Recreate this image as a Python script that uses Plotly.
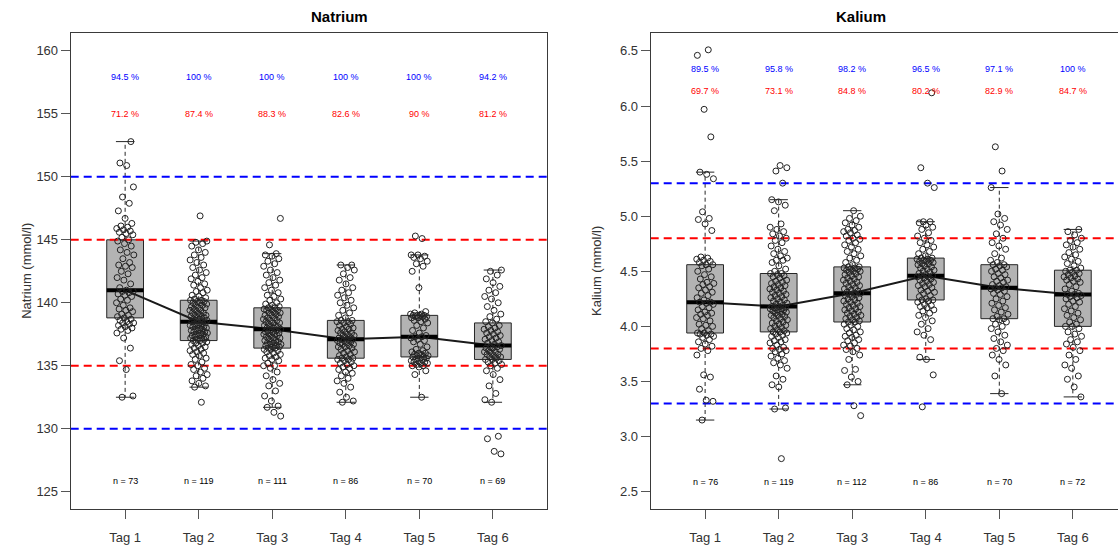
import numpy as np
import plotly.graph_objects as go

# ---------------------------------------------------------------- data
tage = ["Tag 1", "Tag 2", "Tag 3", "Tag 4", "Tag 5", "Tag 6"]

natrium_tag1 = [132.5, 132.6, 134.7, 135.4, 136.4, 137.2, 137.6, 137.8, 137.9, 138.0, 138.1, 138.2,
                138.3, 138.4, 138.4, 138.5, 138.6, 138.7, 138.8,
                138.9, 139.0, 139.1, 139.3, 139.4, 139.5, 139.6, 139.8, 140.0, 140.2, 140.3, 140.5,
                140.6, 140.7, 140.8, 140.9, 140.9, 141.0,
                141.2, 141.5, 141.8, 142.0, 142.3, 142.5, 142.8, 142.9, 143.0, 143.2, 143.5, 143.8,
                144.0, 144.2, 144.5, 144.7, 144.9, 145.0,
                145.2, 145.4, 145.5, 145.6, 145.7, 145.8, 145.9, 146.0, 146.1, 146.3, 146.7, 147.3,
                147.9, 148.4, 149.2, 150.9, 151.1, 152.8]
natrium_tag2 = [132.1, 133.3, 133.4, 133.6, 133.8, 134.0, 134.2, 134.3, 134.5, 134.7, 134.8, 135.0,
                135.1, 135.3, 135.5, 135.6, 135.8, 135.9, 136.0, 136.1, 136.2, 136.3, 136.4, 136.5,
                136.6, 136.7, 136.8, 136.8, 136.9, 137.0, 137.0,
                137.1, 137.1, 137.2, 137.2, 137.3, 137.3, 137.4, 137.4, 137.5, 137.5, 137.6, 137.6,
                137.7, 137.7, 137.8, 137.8, 137.9, 137.9, 138.0, 138.0, 138.1, 138.1, 138.2, 138.2,
                138.3, 138.3, 138.4, 138.4, 138.5,
                138.5, 138.6, 138.6, 138.7, 138.7, 138.8, 138.8, 138.9, 138.9, 139.0, 139.0, 139.1,
                139.2, 139.2, 139.3, 139.4, 139.4, 139.5, 139.6, 139.6, 139.7, 139.8, 139.8, 139.9,
                140.0, 140.0, 140.1, 140.1, 140.2, 140.2,
                140.3, 140.4, 140.5, 140.6, 140.8, 140.9, 141.0, 141.2, 141.4, 141.5, 141.7, 141.9,
                142.0, 142.2, 142.4, 142.6, 142.8, 143.0, 143.2, 143.4, 143.6, 143.8, 144.0, 144.2,
                144.5, 144.7, 144.8, 144.9, 146.9]
natrium_tag3 = [131.0, 131.3, 131.7, 131.8, 132.2, 132.6, 133.0, 133.4, 133.6, 133.9, 134.2, 134.5,
                134.8, 135.0, 135.0, 135.2, 135.4, 135.5, 135.6, 135.7, 135.8, 135.9, 136.0, 136.1,
                136.2, 136.3, 136.3, 136.4, 136.4,
                136.5, 136.5, 136.6, 136.6, 136.7, 136.7, 136.8, 136.8, 136.9, 136.9, 137.0, 137.0,
                137.1, 137.2, 137.2, 137.3, 137.4, 137.4, 137.5, 137.5, 137.6, 137.6, 137.7, 137.7,
                137.8, 137.8, 137.9,
                138.0, 138.0, 138.1, 138.1, 138.2, 138.2, 138.3, 138.4, 138.4, 138.5, 138.6, 138.6,
                138.7, 138.8, 138.8, 138.9, 139.0, 139.0, 139.1, 139.2, 139.2, 139.3, 139.4, 139.4,
                139.5, 139.5, 139.6, 139.6,
                139.7, 139.8, 139.9, 140.0, 140.2, 140.3, 140.5, 140.6, 140.8, 141.0, 141.2, 141.4,
                141.6, 141.8, 142.0, 142.2, 142.4, 142.6, 142.9, 143.1, 143.3, 143.5, 143.7, 143.8,
                143.9, 144.6, 146.7]
natrium_tag4 = [132.1, 132.2, 132.5, 132.9, 133.3, 133.6, 133.8, 134.0, 134.2, 134.4, 134.5, 134.7,
                134.8, 134.9, 135.0, 135.1, 135.2, 135.3, 135.4, 135.5, 135.5, 135.6, 135.6,
                135.7, 135.8, 135.9, 136.0, 136.1, 136.2, 136.3, 136.4, 136.5, 136.5, 136.6, 136.7,
                136.7, 136.8, 136.8, 136.9, 137.0, 137.0, 137.1, 137.1, 137.1,
                137.2, 137.2, 137.3, 137.4, 137.4, 137.5, 137.6, 137.6, 137.7, 137.8, 137.9, 137.9,
                138.0, 138.1, 138.2, 138.3, 138.4, 138.5, 138.5, 138.6, 138.6,
                138.8, 139.0, 139.2, 139.4, 139.6, 139.8, 140.0, 140.2, 140.4, 140.6, 140.8, 141.0,
                141.2, 141.5, 141.8, 142.0, 142.3, 142.6, 142.8, 143.0, 143.0]
natrium_tag5 = [132.5, 134.3, 134.6, 134.9, 135.0, 135.0, 135.1, 135.2, 135.2, 135.3, 135.3, 135.4,
                135.4, 135.5, 135.5, 135.6, 135.6, 135.7, 135.7,
                135.8, 135.8, 135.9, 135.9, 136.0, 136.0, 136.1, 136.2, 136.3, 136.5, 136.7, 136.9,
                137.0, 137.1, 137.2, 137.3, 137.3,
                137.4, 137.6, 137.8, 138.0, 138.2, 138.4, 138.5, 138.6, 138.7, 138.8, 138.8, 138.9,
                138.9, 138.9, 139.0, 139.0, 139.0,
                139.0, 139.1, 139.1, 139.2, 139.3, 141.2, 142.5, 142.9, 143.1, 143.3, 143.5, 143.6,
                143.7, 143.8, 143.8, 145.1, 145.3]
natrium_tag6 = [128.0, 128.2, 129.2, 129.4, 132.1, 132.3, 132.8, 133.4, 133.9, 134.3, 134.6, 134.8,
                135.0, 135.1, 135.2, 135.3, 135.4, 135.5,
                135.5, 135.6, 135.7, 135.7, 135.8, 135.9, 135.9, 136.0, 136.1, 136.1, 136.2, 136.3,
                136.4, 136.4, 136.5, 136.5, 136.6,
                136.7, 136.8, 136.9, 137.0, 137.1, 137.2, 137.3, 137.4, 137.5, 137.6, 137.7, 137.8,
                137.9, 138.0, 138.1, 138.2, 138.4,
                138.5, 138.7, 138.9, 139.1, 139.4, 139.7, 140.0, 140.3, 140.5, 140.8, 141.0, 141.3,
                141.6, 141.9, 142.2, 142.5, 142.6]

kalium_tag1 = [3.15, 3.32, 3.33, 3.43, 3.54, 3.56, 3.74, 3.78, 3.80, 3.82, 3.84, 3.86, 3.88, 3.90,
               3.91, 3.92, 3.93, 3.93, 3.94, 3.94,
               3.96, 3.98, 4.00, 4.01, 4.02, 4.05, 4.07, 4.08, 4.10, 4.11, 4.12, 4.13, 4.15, 4.17,
               4.18, 4.20, 4.21, 4.22, 4.22,
               4.24, 4.26, 4.28, 4.30, 4.31, 4.33, 4.35, 4.36, 4.38, 4.39, 4.40, 4.43, 4.45, 4.47,
               4.50, 4.52, 4.55, 4.56, 4.56,
               4.58, 4.59, 4.60, 4.61, 4.62, 4.63, 4.87, 4.93, 4.97, 4.98, 5.04, 5.34, 5.38, 5.40,
               5.72, 5.97, 6.46, 6.51]
kalium_tag2 = [2.80, 3.25, 3.26, 3.45, 3.47, 3.52, 3.55, 3.62, 3.65, 3.67, 3.69, 3.71, 3.73, 3.75,
               3.77, 3.78, 3.79, 3.80, 3.81, 3.83, 3.85, 3.86, 3.87, 3.88, 3.90, 3.91, 3.92, 3.93,
               3.94, 3.95, 3.95,
               3.96, 3.97, 3.98, 3.99, 4.00, 4.01, 4.02, 4.03, 4.04, 4.05, 4.06, 4.07, 4.08, 4.09,
               4.10, 4.10, 4.11, 4.12, 4.13, 4.13, 4.14, 4.15, 4.15, 4.16, 4.16, 4.17, 4.17, 4.18,
               4.18,
               4.19, 4.20, 4.21, 4.22, 4.23, 4.24, 4.25, 4.26, 4.27, 4.28, 4.29, 4.30, 4.31, 4.32,
               4.33, 4.34, 4.35, 4.36, 4.37, 4.38, 4.39, 4.40, 4.41, 4.42, 4.44, 4.45, 4.46, 4.47,
               4.48, 4.48,
               4.50, 4.52, 4.55, 4.58, 4.60, 4.60, 4.62, 4.64, 4.66, 4.68, 4.70, 4.73, 4.76, 4.78,
               4.80, 4.82, 4.84, 4.86, 4.88, 4.90, 4.93, 5.05, 5.10, 5.13, 5.15, 5.30, 5.41, 5.44,
               5.46]
kalium_tag3 = [3.19, 3.28, 3.47, 3.50, 3.54, 3.60, 3.61, 3.70, 3.74, 3.77, 3.79, 3.80, 3.82, 3.83,
               3.85, 3.87, 3.88, 3.90, 3.91, 3.92, 3.94, 3.95, 3.97, 3.98, 4.00, 4.01, 4.02,
               4.04, 4.04,
               4.05, 4.06, 4.07, 4.08, 4.09, 4.10, 4.11, 4.12, 4.13, 4.14, 4.15, 4.16, 4.17, 4.18,
               4.19, 4.20, 4.21, 4.22, 4.23, 4.24, 4.25, 4.26, 4.27, 4.28, 4.29, 4.29,
               4.30, 4.30,
               4.31, 4.32, 4.33, 4.34, 4.35, 4.36, 4.37, 4.38, 4.39, 4.40, 4.41, 4.42, 4.43, 4.44,
               4.45, 4.46, 4.47, 4.48, 4.49, 4.50, 4.50, 4.51, 4.52, 4.52, 4.53, 4.53,
               4.54, 4.54,
               4.56, 4.58, 4.60, 4.62, 4.64, 4.66, 4.68, 4.70, 4.72, 4.74, 4.76, 4.78, 4.79, 4.80,
               4.82, 4.83, 4.85, 4.86, 4.87, 4.88, 4.90, 4.92, 4.94, 4.96, 4.98, 5.00, 5.05]
kalium_tag4 = [3.27, 3.56, 3.70, 3.72, 3.88, 3.92, 3.95, 3.98, 4.02, 4.05, 4.08, 4.10, 4.12, 4.14,
               4.15, 4.17, 4.18, 4.19, 4.20, 4.22, 4.23, 4.24, 4.24,
               4.25, 4.27, 4.28, 4.30, 4.31, 4.32, 4.33, 4.35, 4.36, 4.37, 4.38, 4.39, 4.40, 4.41,
               4.42, 4.43, 4.44, 4.45, 4.45, 4.46, 4.46,
               4.47, 4.48, 4.49, 4.50, 4.51, 4.52, 4.53, 4.54, 4.55, 4.56, 4.57, 4.57, 4.58, 4.59,
               4.59, 4.60, 4.60, 4.61, 4.61, 4.62, 4.62,
               4.64, 4.66, 4.68, 4.70, 4.72, 4.74, 4.76, 4.78, 4.80, 4.82, 4.85, 4.88, 4.90, 4.92,
               4.94, 4.95, 4.95, 5.26, 5.30, 5.44, 6.12]
kalium_tag5 = [3.39, 3.55, 3.65, 3.70, 3.74, 3.78, 3.80, 3.83, 3.86, 3.89, 3.92, 3.95, 3.98, 4.00,
               4.02, 4.04, 4.06, 4.07, 4.07,
               4.09, 4.11, 4.13, 4.15, 4.17, 4.19, 4.21, 4.23, 4.25, 4.27, 4.29, 4.30, 4.32, 4.33,
               4.34, 4.35, 4.35,
               4.36, 4.37, 4.38, 4.40, 4.41, 4.42, 4.44, 4.45, 4.47, 4.48, 4.50, 4.51, 4.52, 4.54,
               4.55, 4.56, 4.56,
               4.58, 4.60, 4.62, 4.66, 4.70, 4.73, 4.76, 4.80, 4.84, 4.88, 4.92, 4.95, 4.98, 5.02,
               5.26, 5.41, 5.63]
kalium_tag6 = [3.36, 3.45, 3.52, 3.55, 3.62, 3.65, 3.70, 3.74, 3.78, 3.81, 3.84, 3.86, 3.88, 3.91,
               3.93, 3.95, 3.98, 4.00, 4.00,
               4.02, 4.04, 4.06, 4.08, 4.10, 4.12, 4.14, 4.16, 4.18, 4.20, 4.22, 4.23, 4.25, 4.26,
               4.27, 4.28, 4.29, 4.29,
               4.30, 4.32, 4.34, 4.36, 4.38, 4.40, 4.41, 4.42, 4.43, 4.44, 4.45, 4.46, 4.47, 4.48,
               4.49, 4.50, 4.51, 4.51,
               4.53, 4.55, 4.57, 4.59, 4.61, 4.63, 4.65, 4.67, 4.70, 4.72, 4.74, 4.76, 4.78, 4.80,
               4.83, 4.86, 4.88]

natrium = [natrium_tag1, natrium_tag2, natrium_tag3, natrium_tag4, natrium_tag5, natrium_tag6]
kalium = [kalium_tag1, kalium_tag2, kalium_tag3, kalium_tag4, kalium_tag5, kalium_tag6]

# share of values inside the outer (blue) and inner (red) reference ranges
natrium_pct_blue = ["94.5 %", "100 %", "100 %", "100 %", "100 %", "94.2 %"]
natrium_pct_red = ["71.2 %", "87.4 %", "88.3 %", "82.6 %", "90 %", "81.2 %"]
kalium_pct_blue = ["89.5 %", "95.8 %", "98.2 %", "96.5 %", "97.1 %", "100 %"]
kalium_pct_red = ["69.7 %", "73.1 %", "84.8 %", "80.2 %", "82.9 %", "84.7 %"]

natrium_ref_blue = [130, 150]
natrium_ref_red = [135, 145]
kalium_ref_blue = [3.3, 5.3]
kalium_ref_red = [3.8, 4.8]

natrium_ticks = [125, 130, 135, 140, 145, 150, 155, 160]
kalium_ticks = [2.5, 3.0, 3.5, 4.0, 4.5, 5.0, 5.5, 6.0, 6.5]

# ---------------------------------------------------------------- style
W, H = 1118, 547
FONT = "Liberation Sans, Arial, sans-serif"
BOX_W = 0.5
JITTER = 0.12
Y_DOMAIN = [1 - 509.3 / H, 1 - 33.3 / H]
LEFT_DOMAIN = [70.7 / W, 547.3 / W]
RIGHT_DOMAIN = [650.7 / W, 1.0]


def box_stats(values):
    v = np.asarray(values, dtype=float)
    q1, med, q3 = np.percentile(v, [25, 50, 75])
    iqr = q3 - q1
    lo = v[v >= q1 - 1.5 * iqr].min()
    hi = v[v <= q3 + 1.5 * iqr].max()
    return q1, med, q3, lo, hi


def add_panel(fig, groups, xref, yref, x_range, ref_blue, ref_red,
              pct_blue, pct_red, y_pct_blue, y_pct_red, y_n):
    xs = np.arange(1, len(groups) + 1)
    stats = np.array([box_stats(g) for g in groups])
    q1, med, q3, lo, hi = stats.T
    common = dict(xaxis=xref, yaxis=yref, hoverinfo="skip", showlegend=False)

    # boxes (interquartile range)
    fig.add_trace(go.Bar(x=xs, base=q1, y=q3 - q1, width=BOX_W,
                         marker=dict(color="#B3B3B3", line=dict(color="#262626", width=1)),
                         **common))

    # dashed whiskers with solid staples
    wx, wy, sx, sy = [], [], [], []
    for x, a, b, c, d in zip(xs, q1, q3, lo, hi):
        wx += [x, x, None, x, x, None]
        wy += [b, d, None, a, c, None]
        sx += [x - BOX_W / 4, x + BOX_W / 4, None, x - BOX_W / 4, x + BOX_W / 4, None]
        sy += [d, d, None, c, c, None]
    fig.add_trace(go.Scatter(x=wx, y=wy, mode="lines",
                             line=dict(color="#262626", width=1, dash="4px,3px"), **common))
    fig.add_trace(go.Scatter(x=sx, y=sy, mode="lines",
                             line=dict(color="#262626", width=1), **common))

    # reference ranges
    for vals, col in ((ref_blue, "#0000FF"), (ref_red, "#FF0000")):
        for v in vals:
            fig.add_trace(go.Scatter(x=x_range, y=[v, v], mode="lines",
                                     line=dict(color=col, width=2, dash="8px,5px"), **common))

    # median bars and the line joining them
    mx, my = [], []
    for x, m in zip(xs, med):
        mx += [x - BOX_W / 2, x + BOX_W / 2, None]
        my += [m, m, None]
    fig.add_trace(go.Scatter(x=xs, y=med, mode="lines",
                             line=dict(color="#1a1a1a", width=2), **common))
    fig.add_trace(go.Scatter(x=mx, y=my, mode="lines",
                             line=dict(color="#000000", width=4), **common))

    # individual measurements, spread sideways around each day
    px, py = [], []
    for x, g in zip(xs, groups):
        k = np.arange(len(g)) + x * 7
        offs = ((k * 0.6180339887) % 1.0 - 0.5) * 2 * JITTER
        px += list(x + offs)
        py += list(g)
    fig.add_trace(go.Scatter(x=px, y=py, mode="markers",
                             marker=dict(symbol="circle-open", size=6, color="#222222",
                                         line=dict(width=1)), **common))

    # percentage and count labels
    for x, tb, tr, g in zip(xs, pct_blue, pct_red, groups):
        fig.add_annotation(x=x, y=y_pct_blue, xref=xref, yref=yref, text=tb, showarrow=False,
                           font=dict(family=FONT, size=9, color="#0000FF"))
        fig.add_annotation(x=x, y=y_pct_red, xref=xref, yref=yref, text=tr, showarrow=False,
                           font=dict(family=FONT, size=9, color="#FF0000"))
        fig.add_annotation(x=x, y=y_n, xref=xref, yref=yref, text=f"n = {len(g)}",
                           showarrow=False, font=dict(family=FONT, size=9, color="#000000"))


fig = go.Figure()

add_panel(fig, natrium, "x", "y", [0.26, 6.74], natrium_ref_blue, natrium_ref_red,
          natrium_pct_blue, natrium_pct_red, 157.95, 155.0, 125.85)
add_panel(fig, kalium, "x2", "y2", [0.26, 6.614], kalium_ref_blue, kalium_ref_red,
          kalium_pct_blue, kalium_pct_red, 6.334, 6.132, 2.585)

axis_common = dict(showgrid=False, zeroline=False, showline=True, linecolor="#3a3a3a",
                   linewidth=1, ticks="outside", ticklen=9, tickwidth=1, tickcolor="#555555",
                   tickfont=dict(family=FONT, size=13, color="#333333"), fixedrange=True)

fig.update_layout(
    width=W, height=H,
    margin=dict(l=0, r=0, t=0, b=0),
    paper_bgcolor="white", plot_bgcolor="white",
    barmode="overlay", showlegend=False,
    xaxis=dict(domain=LEFT_DOMAIN, range=[0.26, 6.74], anchor="y", mirror=True,
               tickvals=[1, 2, 3, 4, 5, 6], ticktext=tage, ticklabelstandoff=7, **axis_common),
    yaxis=dict(domain=Y_DOMAIN, range=[123.6, 161.4], anchor="x", mirror=True,
               tickvals=natrium_ticks, ticktext=[str(t) for t in natrium_ticks], **axis_common),
    xaxis2=dict(domain=RIGHT_DOMAIN, range=[0.26, 6.614], anchor="y2", mirror=True,
                tickvals=[1, 2, 3, 4, 5, 6], ticktext=tage, ticklabelstandoff=7, **axis_common),
    yaxis2=dict(domain=Y_DOMAIN, range=[2.34, 6.66], anchor="x2", mirror=False,
                tickvals=kalium_ticks, ticktext=[f"{t:.1f}" for t in kalium_ticks],
                **axis_common),
)

# panel titles and axis titles
fig.add_annotation(x=(LEFT_DOMAIN[0] + LEFT_DOMAIN[1]) / 2, y=1 - 17 / H, xref="paper",
                   yref="paper", yanchor="middle", text="<b>Natrium</b>", showarrow=False,
                   font=dict(family=FONT, size=15, color="#000000"))
fig.add_annotation(x=888 / W, y=1 - 17 / H, xref="paper", yref="paper", yanchor="middle",
                   text="<b>Kalium</b>", showarrow=False,
                   font=dict(family=FONT, size=15, color="#000000"))
fig.add_annotation(x=17 / W, y=(Y_DOMAIN[0] + Y_DOMAIN[1]) / 2, xref="paper", yref="paper",
                   text="Natrium (mmol/l)", textangle=-90, showarrow=False,
                   font=dict(family=FONT, size=13, color="#333333"))
fig.add_annotation(x=596.7 / W, y=(Y_DOMAIN[0] + Y_DOMAIN[1]) / 2, xref="paper", yref="paper",
                   text="Kalium (mmol/l)", textangle=-90, showarrow=False,
                   font=dict(family=FONT, size=13, color="#333333"))

fig.write_html("out.html")
